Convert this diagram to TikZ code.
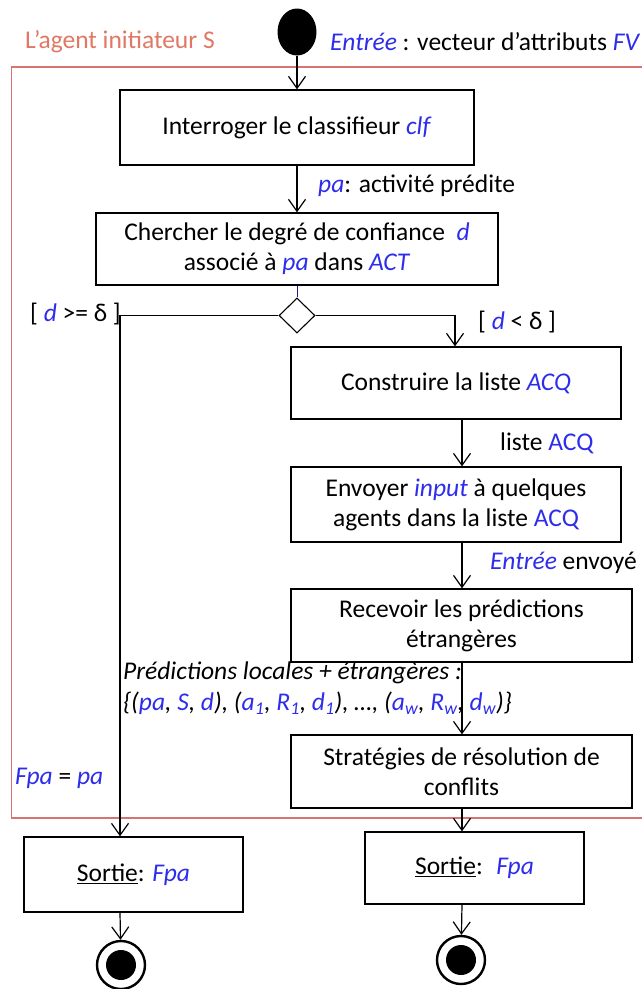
\documentclass[tikz,border=0pt]{standalone}
\usepackage{fontspec}
\setmainfont{Carlito}
\usetikzlibrary{arrows.meta,shapes.geometric}
\definecolor{tblue}{RGB}{45,45,235}
\definecolor{fred}{RGB}{215,115,115}
\definecolor{tred}{RGB}{225,120,100}
\newcommand{\bl}[1]{\textcolor{tblue}{\textit{#1}}}
\newcommand{\bu}[1]{\textcolor{tblue}{#1}}
\tikzset{
  actbox/.style={draw,line width=1.3pt,rectangle,align=center,inner sep=0pt,font=\fontsize{25.5}{30}\selectfont},
  lbl/.style={anchor=west,inner sep=0pt,font=\fontsize{25.5}{30}\selectfont},
  flow/.style={line width=1.2pt,-{Straight Barb[length=12pt,width=17pt,line width=1.2pt]}},
}
\begin{document}
\begin{tikzpicture}[x=1pt,y=-1pt]
\useasboundingbox (0,0) rectangle (642,989);
\fill[white] (0,0) rectangle (642,989);
% frame
\draw[fred,line width=1.4pt] (11.5,67) rectangle (660,818);
\node[lbl,text=tred] (title) at (25,42) {L’agent initiateur S};
\node[lbl] (input) at (330,42) {\bl{Entrée} : vecteur d’attributs \bl{FV}};
% start
\node[ellipse,fill=black,minimum width=39pt,minimum height=47pt,inner sep=0pt] (start) at (297,32) {};
% boxes
\node[actbox,minimum width=354pt,minimum height=75pt] (b1) at (297,127.5) {Interroger le classifieur \bl{clf}};
\node[actbox,minimum width=402pt,minimum height=72pt] (b2) at (297,249) {Chercher le degré de confiance \ \bl{d}\\associé à \bl{pa} dans \bl{ACT}};
\node[diamond,draw,line width=1.1pt,minimum width=36pt,minimum height=35pt,inner sep=0pt,aspect=1] (dec) at (297,315.5) {};
\node[actbox,minimum width=330pt,minimum height=72pt] (b3) at (456,383) {Construire la liste \bl{ACQ}};
\node[actbox,minimum width=330pt,minimum height=75pt] (b4) at (456,504.5) {Envoyer \bl{input} à quelques\\agents dans la liste \bu{ACQ}};
\node[actbox,minimum width=341pt,minimum height=73pt] (b5) at (461.5,625.5) {Recevoir les prédictions\\étrangères};
\node[actbox,minimum width=341pt,minimum height=73pt] (b6) at (461.5,771.5) {Stratégies de résolution de\\conflits};
\node[actbox,minimum width=219pt,minimum height=75pt] (o1) at (133.5,874.5) {\underline{Sortie}: \bl{Fpa}};
\node[actbox,minimum width=219pt,minimum height=72pt] (o2) at (474.5,868) {\underline{Sortie}: \ \bl{Fpa}};
% end nodes
\node[circle,draw,line width=2.4pt,minimum size=48pt,inner sep=0pt] (e1) at (121,965) {};
\node[circle,fill=black,minimum size=30pt,inner sep=0pt] (e1i) at (e1) {};
\node[circle,draw,line width=2.4pt,minimum size=48pt,inner sep=0pt] (e2) at (461,960) {};
\node[circle,fill=black,minimum size=30pt,inner sep=0pt] (e2i) at (e2) {};
% coordinates
\coordinate (ax) at (462,0);
\coordinate (cl) at (120,315.5);
\coordinate (cr) at (455,315.5);
% connectors
\draw[flow] (start) -- (b1);
\draw[flow] (b1) -- (b2);
\draw[tblue!60!black,line width=0.8pt] (b2) -- (dec);
\draw[flow] (dec.west) -- (cl) -- (cl |- o1.north);
\draw[flow] (dec.east) -- (cr) -- (cr |- b3.north);
\draw[flow] (b3.south -| ax) -- (b4.north -| ax);
\draw[flow] (b4.south -| ax) -- (b5.north -| ax);
\draw[flow] (b5.south -| ax) -- (b6.north -| ax);
\draw[flow] (b6.south -| ax) -- (o2.north -| ax);
\draw[flow] (o1.south -| cl) -- (e1);
\draw[flow] (o2.south -| ax) -- (e2);
% labels
\node[lbl] (l1) at (318,186) {\bl{pa}: activité prédite};
\node[lbl] (l2) at (30,314) {[ \bl{d} >= δ ]};
\node[lbl] (l3) at (478,322) {[ \bl{d} < δ ]};
\node[lbl] (l4) at (500,443) {liste \bu{ACQ}};
\node[lbl] (l5) at (490,563) {\bl{Entrée} envoyé};
\node[lbl] (l6) at (123,673) {\textit{Prédictions locales + étrangères :}};
\node[lbl] (l7) at (123,703) {\textit{\{(\bu{pa}, \bu{S}, \bu{d}), (\bu{a\textsubscript{1}}, \bu{R\textsubscript{1}}, \bu{d\textsubscript{1}}), …, (\bu{a\textsubscript{w}}, \bu{R\textsubscript{w}}, \bu{d\textsubscript{w}})\}}};
\node[lbl] (l8) at (15,778) {\bl{Fpa} = \bl{pa}};
\end{tikzpicture}
\end{document}
